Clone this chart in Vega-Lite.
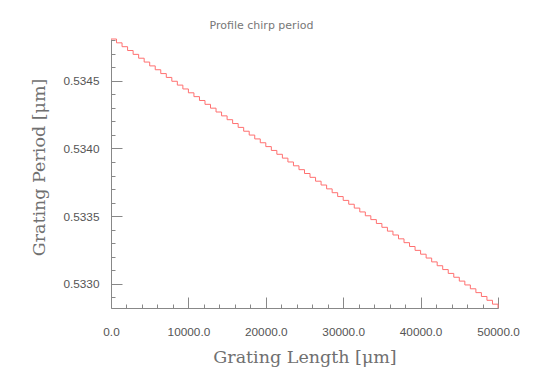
{
  "$schema": "https://vega.github.io/schema/vega-lite/v6.json",
  "width": 387,
  "height": 269,
  "autosize": "none",
  "padding": {"left": 111, "top": 39, "right": 56, "bottom": 77},
  "background": "white",
  "config": {"view": {"stroke": null}},
  "title": {"text": "Profile chirp period", "font": "DejaVu Sans", "fontSize": 11, "fontWeight": "normal", "color": "#777777", "anchor": "middle", "frame": "group", "dx": -43, "offset": 6},
  "data": {"values": [
    {"x": 0, "y": 0.5348100}, {"x": 714.3, "y": 0.5347816}, {"x": 1428.6, "y": 0.5347531}, {"x": 2142.9, "y": 0.5347247},
    {"x": 2857.1, "y": 0.5346963}, {"x": 3571.4, "y": 0.5346679}, {"x": 4285.7, "y": 0.5346394}, {"x": 5000, "y": 0.5346110},
    {"x": 5714.3, "y": 0.5345826}, {"x": 6428.6, "y": 0.5345541}, {"x": 7142.9, "y": 0.5345257}, {"x": 7857.1, "y": 0.5344973},
    {"x": 8571.4, "y": 0.5344689}, {"x": 9285.7, "y": 0.5344404}, {"x": 10000, "y": 0.5344120}, {"x": 10714.3, "y": 0.5343836},
    {"x": 11428.6, "y": 0.5343551}, {"x": 12142.9, "y": 0.5343267}, {"x": 12857.1, "y": 0.5342983}, {"x": 13571.4, "y": 0.5342699},
    {"x": 14285.7, "y": 0.5342414}, {"x": 15000, "y": 0.5342130}, {"x": 15714.3, "y": 0.5341846}, {"x": 16428.6, "y": 0.5341561},
    {"x": 17142.9, "y": 0.5341277}, {"x": 17857.1, "y": 0.5340993}, {"x": 18571.4, "y": 0.5340709}, {"x": 19285.7, "y": 0.5340424},
    {"x": 20000, "y": 0.5340140}, {"x": 20714.3, "y": 0.5339856}, {"x": 21428.6, "y": 0.5339571}, {"x": 22142.9, "y": 0.5339287},
    {"x": 22857.1, "y": 0.5339003}, {"x": 23571.4, "y": 0.5338719}, {"x": 24285.7, "y": 0.5338434}, {"x": 25000, "y": 0.5338150},
    {"x": 25714.3, "y": 0.5337866}, {"x": 26428.6, "y": 0.5337581}, {"x": 27142.9, "y": 0.5337297}, {"x": 27857.1, "y": 0.5337013},
    {"x": 28571.4, "y": 0.5336729}, {"x": 29285.7, "y": 0.5336444}, {"x": 30000, "y": 0.5336160}, {"x": 30714.3, "y": 0.5335876},
    {"x": 31428.6, "y": 0.5335591}, {"x": 32142.9, "y": 0.5335307}, {"x": 32857.1, "y": 0.5335023}, {"x": 33571.4, "y": 0.5334739},
    {"x": 34285.7, "y": 0.5334454}, {"x": 35000, "y": 0.5334170}, {"x": 35714.3, "y": 0.5333886}, {"x": 36428.6, "y": 0.5333601},
    {"x": 37142.9, "y": 0.5333317}, {"x": 37857.1, "y": 0.5333033}, {"x": 38571.4, "y": 0.5332749}, {"x": 39285.7, "y": 0.5332464},
    {"x": 40000, "y": 0.5332180}, {"x": 40714.3, "y": 0.5331896}, {"x": 41428.6, "y": 0.5331611}, {"x": 42142.9, "y": 0.5331327},
    {"x": 42857.1, "y": 0.5331043}, {"x": 43571.4, "y": 0.5330759}, {"x": 44285.7, "y": 0.5330474}, {"x": 45000, "y": 0.5330190},
    {"x": 45714.3, "y": 0.5329906}, {"x": 46428.6, "y": 0.5329621}, {"x": 47142.9, "y": 0.5329337}, {"x": 47857.1, "y": 0.5329053},
    {"x": 48571.4, "y": 0.5328769}, {"x": 49285.7, "y": 0.5328484}, {"x": 50000, "y": 0.5328200}
  ]},
  "resolve": {"axis": {"x": "independent", "y": "independent"}},
  "layer": [
    {
      "mark": {"type": "line", "interpolate": "step-after", "color": "#ff7070", "strokeWidth": 1},
      "encoding": {
        "x": {"field": "x", "type": "quantitative", "scale": {"domain": [0, 50000], "nice": false, "zero": false},
          "axis": {"orient": "bottom", "values": [0, 10000, 20000, 30000, 40000, 50000], "format": ".1f", "grid": false,
            "tickSize": -11, "tickColor": "#888888", "domainColor": "#888888", "labelPadding": 29,
            "labelFont": "Liberation Sans", "labelFontSize": 11.8, "labelColor": "#555555", "labelFlush": false,
            "title": "Grating Length [μm]", "titleFont": "DejaVu Serif", "titleFontSize": 17.5, "titleFontWeight": "normal", "titleColor": "#707070", "titlePadding": 11}},
        "y": {"field": "y", "type": "quantitative", "scale": {"domain": [0.53282, 0.53481], "nice": false, "zero": false},
          "axis": {"orient": "left", "values": [0.533, 0.5335, 0.534, 0.5345], "format": ".4f", "grid": false,
            "tickSize": -11, "tickColor": "#888888", "domainColor": "#888888", "labelPadding": 23,
            "labelFont": "Liberation Sans", "labelFontSize": 11.8, "labelColor": "#555555",
            "title": "Grating Period [μm]", "titleFont": "DejaVu Serif", "titleFontSize": 17.5, "titleFontWeight": "normal", "titleColor": "#707070", "titlePadding": 14, "titleY": 128}}
      }
    },
    {
      "mark": {"type": "line", "strokeOpacity": 0},
      "encoding": {
        "x": {"field": "x", "type": "quantitative",
          "axis": {"orient": "bottom", "values": [2000, 4000, 6000, 8000, 12000, 14000, 16000, 18000, 22000, 24000, 26000, 28000, 32000, 34000, 36000, 38000, 42000, 44000, 46000, 48000],
            "labels": false, "domain": false, "grid": false, "title": null, "tickSize": -4, "tickColor": "#888888"}},
        "y": {"field": "y", "type": "quantitative",
          "axis": {"orient": "left", "values": [0.5329, 0.5331, 0.5332, 0.5333, 0.5334, 0.5336, 0.5337, 0.5338, 0.5339, 0.5341, 0.5342, 0.5343, 0.5344, 0.5346, 0.5347, 0.5348],
            "labels": false, "domain": false, "grid": false, "title": null, "tickSize": -4, "tickColor": "#888888"}}
      }
    }
  ]
}
